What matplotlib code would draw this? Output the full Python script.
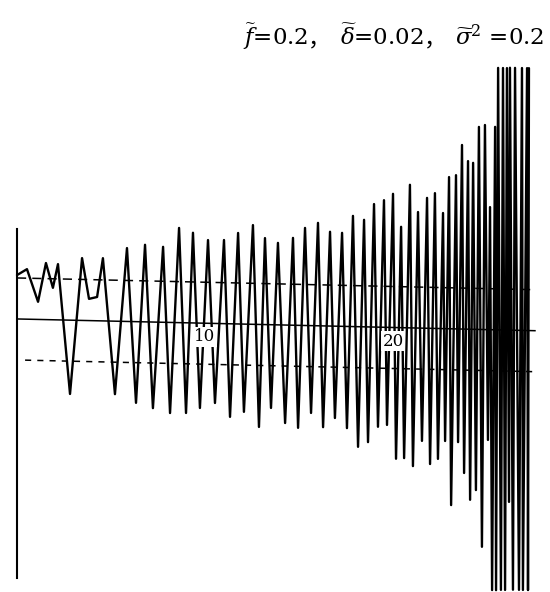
import numpy as np
import matplotlib
matplotlib.use('Agg')
import matplotlib.pyplot as plt
import matplotlib.transforms as mtransforms


# turning points of the trace
# time axis (10 and 20 are marked), amplitude in units of the dashed level
t_pts = [0.00, 0.53, 1.12, 1.54, 1.91, 2.18, 2.82, 3.46, 3.83, 4.26,
	4.57, 5.21, 5.85, 6.33, 6.81, 7.23, 7.77, 8.14, 8.62, 8.99,
	9.36, 9.73, 10.16, 10.53, 11.01, 11.33, 11.76, 12.07, 12.55, 12.87,
	13.19, 13.51, 13.88, 14.26, 14.68, 14.95, 15.32, 15.64, 16.01, 16.28,
	16.65, 16.91, 17.29, 17.55, 17.87, 18.14, 18.46, 18.67, 18.99, 19.20,
	19.52, 19.68, 20.00, 20.16, 20.43, 20.59, 20.90, 21.06, 21.33, 21.54,
	21.81, 21.97, 22.23, 22.39, 22.66, 22.77, 22.98, 23.09, 23.35, 23.46,
	23.67, 23.78, 23.99, 24.10, 24.26, 24.41, 24.57, 24.73, 24.89, 25.05,
	25.16, 25.27, 25.43, 25.48, 25.59, 25.74, 25.85, 25.96, 26.06, 26.17,
	26.22, 26.38, 26.49, 26.70, 26.86, 26.91, 27.13, 27.18, 27.23]

amp_pts = [1.07, 1.22, 0.43, 1.38, 0.78, 1.36, -1.80, 1.52, 0.53, 0.58,
	1.53, -1.78, 1.79, -1.98, 1.88, -2.10, 1.84, -2.21, 2.31, -2.20,
	2.20, -2.07, 2.03, -1.94, 2.04, -2.27, 2.22, -2.14, 2.42, -2.50,
	2.11, -2.03, 2.00, -2.39, 2.13, -2.50, 2.38, -2.13, 2.51, -2.47,
	2.30, -2.24, 2.28, -2.48, 2.70, -2.93, 2.61, -2.81, 3.00, -2.43,
	3.10, -2.38, 3.26, -3.20, 2.46, -3.18, 3.49, -3.37, 2.83, -2.75,
	3.18, -3.31, 3.30, -3.18, 2.82, -2.74, 3.70, -4.30, 3.75, -2.76,
	4.49, -3.51, 4.10, -4.16, 4.06, -3.92, 4.94, -5.30, 4.99, -2.69,
	2.99, -6.35, 4.95, -6.35, 6.39, -6.34, 6.39, -6.34, 6.39, -4.19,
	6.40, -6.33, 6.40, -6.33, 6.40, -6.33, 6.40, -6.33, 6.40]

# reference levels: mean and the two dashed bounds
level_vals = [0.0, 1.0, -1.0]
level_start = [0.0, 0.0, 0.43]
t_end = 27.55
axis_top = 2.2
axis_bottom = -6.32

tick_times = [10, 20]
tick_labels = ['10', '20']

title_parts = [r'$\widetilde{f}$=0.2', '，', r'$\widetilde{\delta}$=0.02', '，',
	r'$\widetilde{\sigma}^{2}$ =0.2']


plt.rcParams['mathtext.fontset'] = 'dejavuserif'

fig = plt.figure(figsize=(5.5, 5.92), dpi=100)
ax = fig.add_axes([0, 0, 1, 1])
ax.axis('off')
ax.set_xlim(-0.904, 28.35)
ax.set_ylim(-6.66, 7.78)

# the scanned page is a little skewed, the base line drops to the right
skew = mtransforms.Affine2D(np.array([[1, 0, 0], [-0.0104, 1, 0], [0, 0, 1]]))
trans = skew + ax.transData

ax.plot([0, 0], [axis_bottom, axis_top], color='black', lw=1.5, transform=trans)

styles = ['-', (0, (6, 4)), (0, (4, 4))]
for v, s0, ls in zip(level_vals, level_start, styles):
	ax.plot([s0, t_end], [v, v], color='black', lw=1.1, ls=ls, transform=trans)

ax.plot(t_pts, amp_pts, color='black', lw=1.7, solid_joinstyle='round',
	solid_capstyle='round', transform=trans, zorder=3)

for tt, lab in zip(tick_times, tick_labels):
	ax.text(tt, -0.33, lab, ha='center', va='center', fontsize=12,
		family='DejaVu Serif', transform=trans, zorder=5,
		bbox=dict(facecolor='white', edgecolor='none', pad=1.0))

# title, pieces set one after another along the baseline
renderer = fig.canvas.get_renderer()
xp = 243
ybase = 1 - 45 / 592.
gaps = [0, 0, 10, 0, 8]
for part, gap in zip(title_parts, gaps):
	if part == '，':
		txt = fig.text((xp + gap) / 550., ybase, part, fontsize=16.5,
			family=['Noto Sans CJK JP', 'DejaVu Sans'], va='baseline')
	else:
		txt = fig.text((xp + gap) / 550., ybase, part, fontsize=16.5,
			family='DejaVu Serif', va='baseline')
	xp = txt.get_window_extent(renderer).x1

fig.savefig('out.png', dpi=100, facecolor='white')
